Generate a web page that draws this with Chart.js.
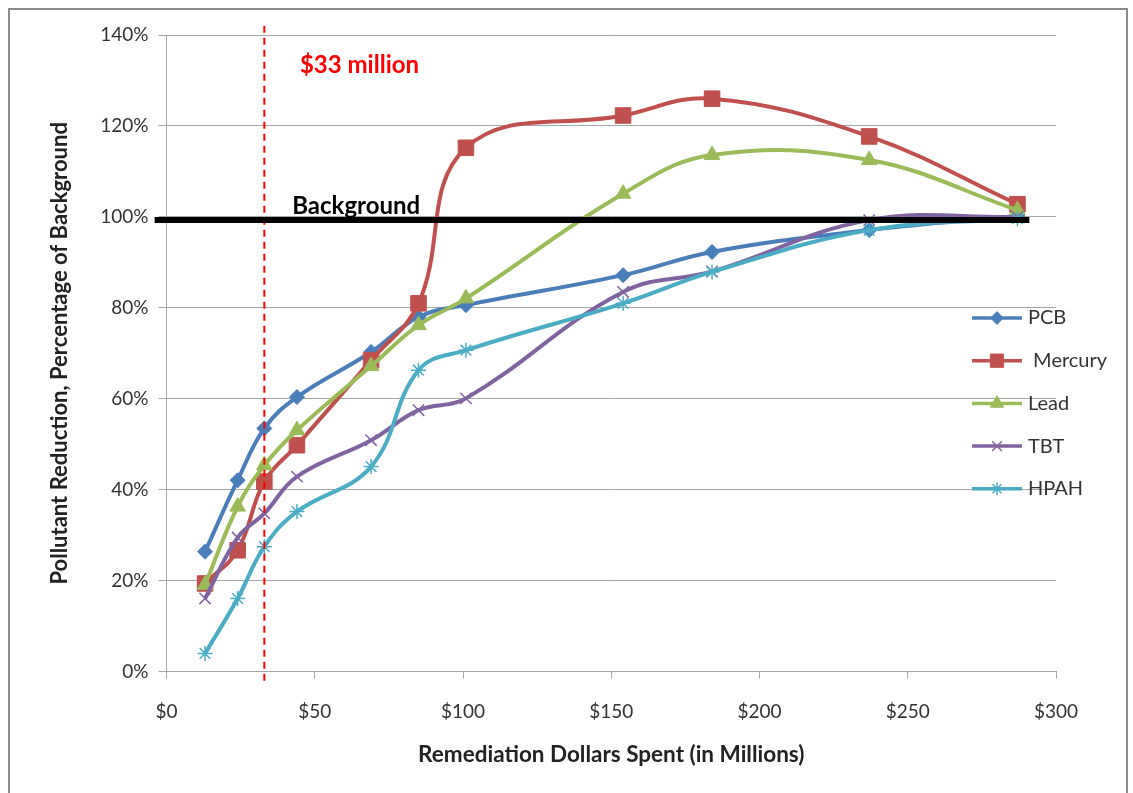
<!DOCTYPE html>
<html>
<head>
<meta charset="utf-8">
<script src="https://cdn.jsdelivr.net/npm/chart.js@4.4.0/dist/chart.umd.min.js"></script>
<style>
    html, body { margin: 0; padding: 0; background: #fff; }
    #wrap { position: relative; width: 1133px; height: 793px; }
</style>
</head>
<body>
<div id="wrap"><canvas id="lineChart"></canvas></div>
<script>
// Remediation dollars spent (in millions) for each point
const spend = [13, 24, 33, 44, 69, 85, 101, 154, 184, 237, 287];

// Pollutant reduction, % of background
const pcb     = [26.4, 42.1, 53.5, 60.4, 70.3, 78.0, 80.6, 87.2, 92.3, 97.1, 100.2];
const mercury = [19.4, 26.7, 41.8, 49.8, 68.5, 81.0, 115.2, 122.3, 126.0, 117.7, 102.8];
const lead    = [19.1, 36.3, 45.4, 53.1, 67.2, 76.2, 82.1, 105.1, 113.6, 112.5, 101.5];
const tbt     = [16.1, 29.5, 34.8, 42.9, 50.9, 57.5, 60.1, 83.5, 88.0, 99.3, 100.0];
const hpah    = [4.0, 16.1, 27.5, 35.2, 45.1, 66.3, 70.7, 81.0, 87.9, 97.1, 99.6];

const seriesNames = ['PCB', 'Mercury', 'Lead', 'TBT', 'HPAH'];

// reference lines
const cutoffSpend = 33;        // $33 million
const backgroundLevel = 99.3;  // background line
const backgroundSpan = [-4, 291];

// axis ticks
const xTicks = [0, 50, 100, 150, 200, 250, 300];
const yTicks = [0, 20, 40, 60, 80, 100, 120, 140];

const FONT = 'Lato, "Open Sans", sans-serif';

function toPoints(values) {
    return spend.map((s, i) => ({ x: s, y: values[i] }));
}

function series(label, values, color, style, radius, order, thin) {
    return {
        label: label,
        data: toPoints(values),
        borderColor: color,
        backgroundColor: color,
        borderWidth: 4,
        tension: 0.4,
        pointStyle: style,
        pointRadius: radius,
        pointHoverRadius: radius,
        pointBackgroundColor: color,
        pointBorderColor: color,
        pointBorderWidth: thin ? 1.5 : 1,
        order: order,
        fill: false
    };
}

const datasets = [
    {
        label: 'Background',
        data: backgroundSpan.map(v => ({ x: v, y: backgroundLevel })),
        borderColor: '#000000',
        borderWidth: 6,
        pointRadius: 0,
        clip: false,
        order: 0
    },
    {
        label: 'cutoff',
        data: [{ x: cutoffSpend, y: -2 }, { x: cutoffSpend, y: 142 }],
        borderColor: '#FF0000',
        borderWidth: 2,
        borderDash: [7, 5],
        pointRadius: 0,
        clip: false,
        order: 1
    },
    series('PCB', pcb, '#4A7EBB', 'rectRot', 7.5, 6),
    series('Mercury', mercury, '#C0504D', 'rect', 11, 5),
    series('Lead', lead, '#9BBB59', 'triangle', 9, 4),
    series('TBT', tbt, '#8064A2', 'crossRot', 8, 3, true),
    series('HPAH', hpah, '#4BACC6', 'star', 7.5, 2, true)
];

// frame, annotation text and the legend drawn over the plot
const extrasPlugin = {
    id: 'extras',
    beforeDraw(chart) {
        const ctx = chart.ctx;
        ctx.save();
        ctx.fillStyle = '#ffffff';
        ctx.fillRect(0, 0, chart.width, chart.height);
        ctx.strokeStyle = '#8C8C8C';
        ctx.lineWidth = 2;
        ctx.strokeRect(9, 9, 1118, 800);
        ctx.restore();
    },
    afterDraw(chart) {
        const { ctx, scales: { x, y } } = chart;
        ctx.save();
        ctx.textBaseline = 'middle';
        ctx.textAlign = 'left';
        ctx.font = 'bold 24px ' + FONT;
        ctx.fillStyle = '#FF0000';
        ctx.fillText('$33 million', x.getPixelForValue(45), y.getPixelForValue(133.3));
        ctx.fillStyle = '#000000';
        ctx.fillText('Background', x.getPixelForValue(42.4), y.getPixelForValue(102.4));

        // legend
        ctx.font = '20px ' + FONT;
        chart.data.datasets.forEach(ds => {
            const idx = seriesNames.indexOf(ds.label);
            if (idx < 0) return;
            const ly = 318 + idx * 42.7;
            ctx.strokeStyle = ds.borderColor;
            ctx.lineWidth = 3.5;
            ctx.beginPath();
            ctx.moveTo(972, ly);
            ctx.lineTo(1022, ly);
            ctx.stroke();
            ctx.fillStyle = ds.pointBackgroundColor;
            ctx.strokeStyle = ds.pointBorderColor;
            ctx.lineWidth = ds.pointBorderWidth;
            Chart.helpers.drawPoint(ctx, {
                pointStyle: ds.pointStyle,
                radius: ds.pointRadius * 0.85,
                rotation: 0,
                borderWidth: ds.pointBorderWidth
            }, 997, ly);
            ctx.fillStyle = '#333333';
            ctx.fillText(ds.label === 'Mercury' ? ' Mercury' : ds.label, 1028, ly);
        });
        ctx.restore();
    }
};

document.addEventListener('DOMContentLoaded', function () {
    const ctx = document.getElementById('lineChart').getContext('2d');

    new Chart(ctx, {
        type: 'line',
        data: { datasets: datasets },
        options: {
            responsive: true,
            maintainAspectRatio: false,
            animation: false,
            layout: {
                padding: { left: 0, right: 77, top: 35, bottom: 0 }
            },
            plugins: {
                legend: { display: false },
                tooltip: { enabled: false }
            },
            scales: {
                x: {
                    type: 'linear',
                    min: 0,
                    max: 300,
                    afterBuildTicks: scale => { scale.ticks = xTicks.map(v => ({ value: v })); },
                    afterFit: scale => { scale.height = 121.3; },
                    grid: {
                        drawOnChartArea: false,
                        drawTicks: true,
                        tickLength: 7,
                        color: '#A6A6A6'
                    },
                    border: { display: true, color: '#A6A6A6', width: 1 },
                    ticks: {
                        padding: 22,
                        color: '#333333',
                        font: { family: FONT, size: 19 },
                        maxRotation: 0,
                        callback: v => '$' + v
                    },
                    title: {
                        display: true,
                        text: 'Remediation Dollars Spent (in Millions)',
                        color: '#222222',
                        font: { family: FONT, size: 22.5, weight: 'bold' },
                        padding: { top: 0, bottom: 25 }
                    }
                },
                y: {
                    min: 0,
                    max: 140,
                    afterBuildTicks: scale => { scale.ticks = yTicks.map(v => ({ value: v })); },
                    afterFit: scale => { scale.width = 166.5; },
                    grid: {
                        color: '#A6A6A6',
                        lineWidth: 1,
                        drawTicks: true,
                        tickLength: 8
                    },
                    border: { display: true, color: '#A6A6A6', width: 1 },
                    ticks: {
                        padding: 10,
                        color: '#333333',
                        font: { family: FONT, size: 19 },
                        callback: v => v + '%'
                    },
                    title: {
                        display: true,
                        text: 'Pollutant Reduction, Percentage of Background',
                        color: '#222222',
                        font: { family: FONT, size: 22, weight: 'bold' },
                        padding: { top: 47, bottom: 0 }
                    }
                }
            }
        },
        plugins: [extrasPlugin]
    });
});
</script>
</body>
</html>
